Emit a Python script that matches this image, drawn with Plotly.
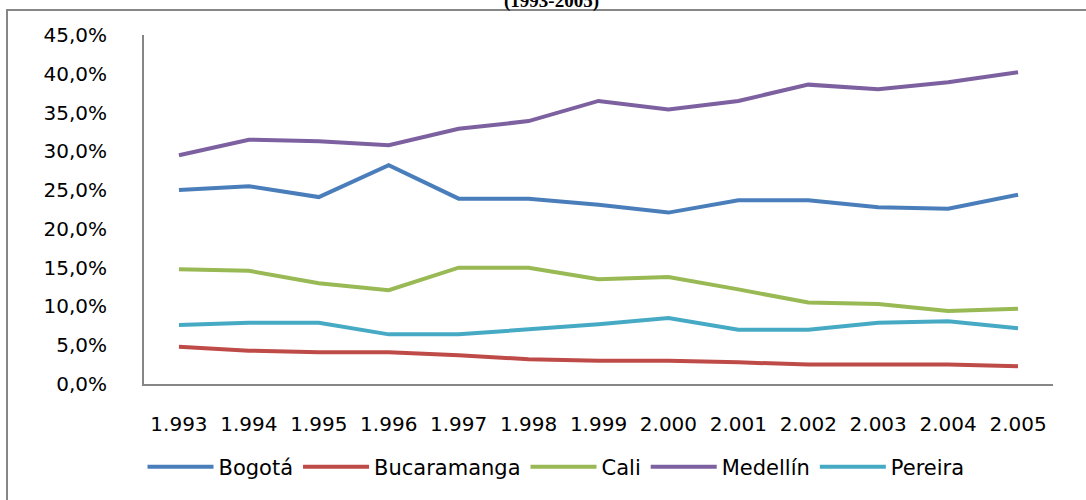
import plotly.graph_objects as go

years = ["1.993", "1.994", "1.995", "1.996", "1.997", "1.998", "1.999",
         "2.000", "2.001", "2.002", "2.003", "2.004", "2.005"]

bogota = [0.250, 0.255, 0.241, 0.282, 0.239, 0.239, 0.231, 0.221, 0.237, 0.237, 0.228, 0.226, 0.244]
bucaramanga = [0.048, 0.043, 0.041, 0.041, 0.037, 0.032, 0.030, 0.030, 0.028, 0.025, 0.025, 0.025, 0.023]
cali = [0.148, 0.146, 0.130, 0.121, 0.150, 0.150, 0.135, 0.138, 0.122, 0.105, 0.103, 0.094, 0.097]
medellin = [0.295, 0.315, 0.313, 0.308, 0.329, 0.339, 0.365, 0.354, 0.365, 0.386, 0.380, 0.389, 0.402]
pereira = [0.076, 0.079, 0.079, 0.064, 0.064, 0.070, 0.077, 0.085, 0.070, 0.070, 0.079, 0.081, 0.072]

series = [
    ("Bogotá", bogota, "#4A7EBB"),
    ("Bucaramanga", bucaramanga, "#BE4B48"),
    ("Cali", cali, "#98B954"),
    ("Medellín", medellin, "#7D60A0"),
    ("Pereira", pereira, "#46AAC5"),
]

fig = go.Figure()
for name, vals, col in series:
    fig.add_trace(go.Scatter(x=years, y=vals, name=name, mode="lines",
                             line=dict(color=col, width=4)))

W, H = 1086, 500
L, R, T, B = 144, 33, 35, 116
pw, ph = W - L - R, H - T - B

def px_x(p):
    return (p - L) / pw

def px_y(p):
    return (H - B - p) / ph

font_main = "DejaVu Sans"

fig.update_layout(
    width=W, height=H,
    margin=dict(l=L, r=R, t=T, b=B, pad=0, autoexpand=False),
    paper_bgcolor="white", plot_bgcolor="white",
    separators=",.",
    showlegend=True,
    legend=dict(orientation="h", xref="container", x=556 / W, xanchor="center",
                yref="container", y=(H - 467) / H, yanchor="middle",
                font=dict(family=font_main, size=21, color="#000000"),
                itemwidth=66, tracegroupgap=0, bgcolor="rgba(0,0,0,0)"),
    xaxis=dict(type="category", range=[-0.5, len(years) - 0.5],
               showgrid=False, zeroline=False, automargin=False,
               showline=True, linecolor="#868686", linewidth=2,
               ticks="", tickangle=0, ticklabelstandoff=21,
               tickfont=dict(family=font_main, size=20, color="#000000")),
    yaxis=dict(range=[0, 0.45], dtick=0.05, tickformat=".1%",
               showgrid=False, zeroline=False, automargin=False,
               showline=True, linecolor="#868686", linewidth=2,
               ticks="", ticklabelstandoff=31,
               tickfont=dict(family=font_main, size=20, color="#000000")),
    shapes=[dict(type="rect", xref="paper", yref="paper",
                 x0=px_x(7), x1=px_x(1095), y0=px_y(510), y1=px_y(10),
                 line=dict(color="#868686", width=2), fillcolor="rgba(0,0,0,0)",
                 layer="below")],
    annotations=[dict(text="<b>(1993-2005)</b>", xref="paper", yref="paper",
                      x=px_x(551), y=px_y(1), xanchor="center", yanchor="middle",
                      showarrow=False,
                      font=dict(family="Liberation Serif", size=19, color="#000000"))],
)

fig.write_html("out.html", config={"displayModeBar": False},
               post_script="document.body.style.margin='0';document.body.style.overflow='hidden';")
